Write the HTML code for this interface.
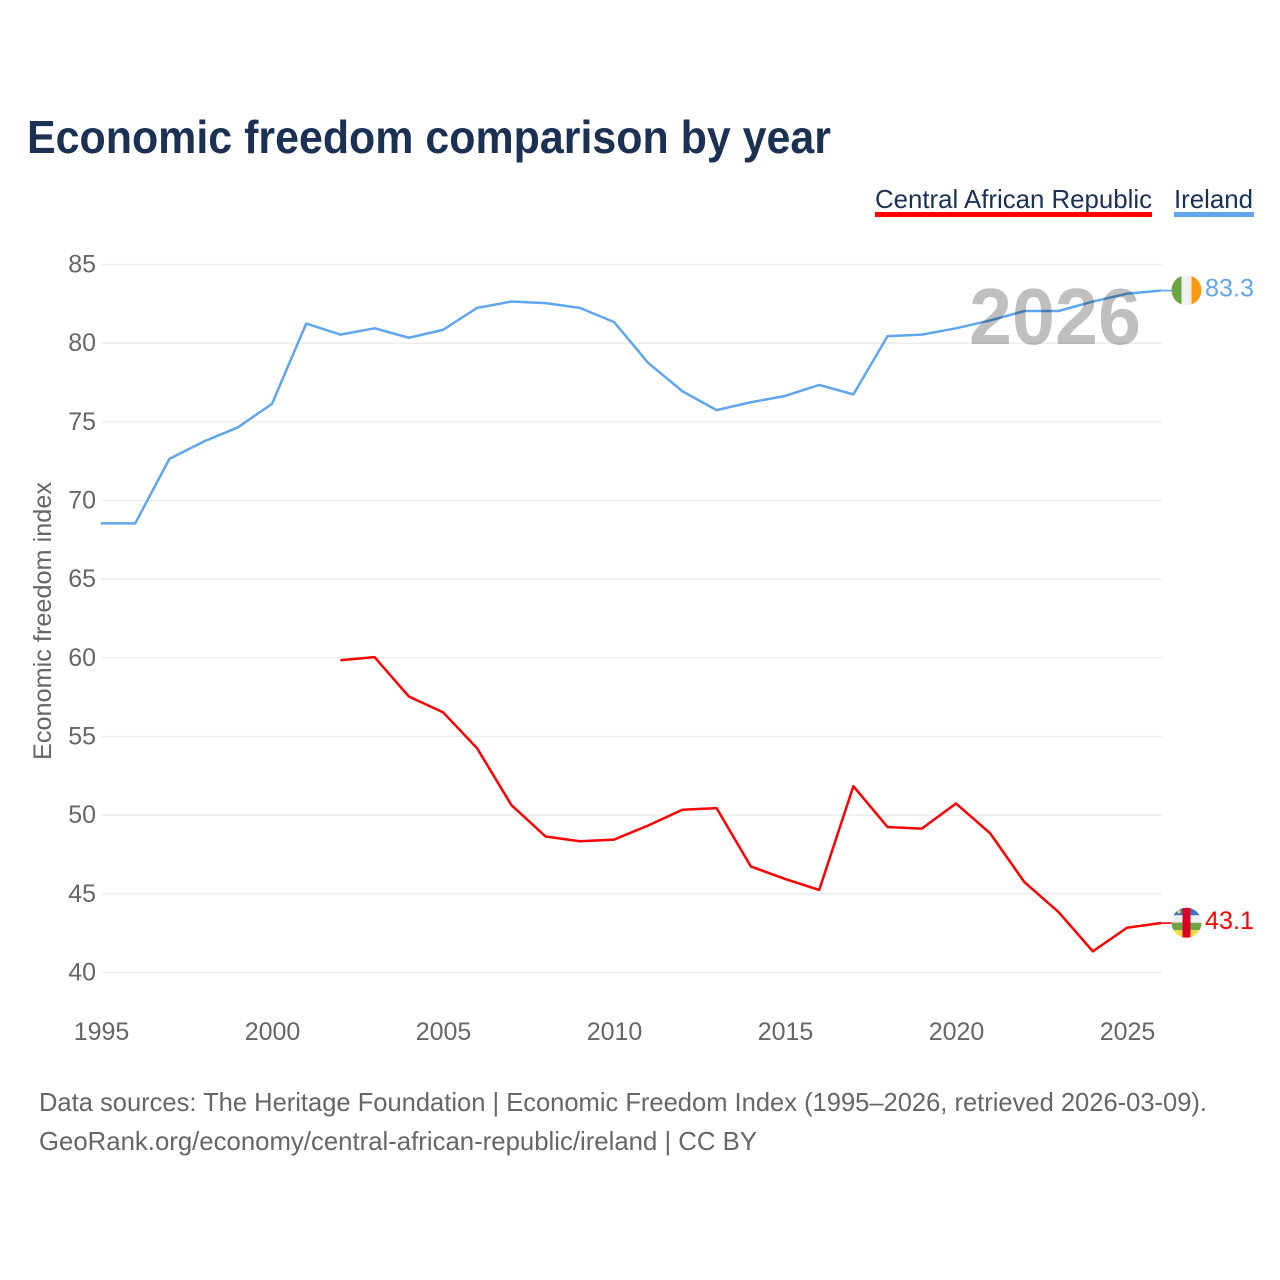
<!DOCTYPE html>
<html lang="en">
<head>
<meta charset="utf-8">
<title>Economic freedom comparison by year</title>
<style>
html,body{margin:0;padding:0;background:#fff;width:1280px;height:1280px;overflow:hidden}
svg{display:block}
text{font-family:"Liberation Sans",sans-serif}
</style>
</head>
<body>
<svg id="chart" xmlns="http://www.w3.org/2000/svg" width="1280" height="1280" viewBox="0 0 1280 1280">
  <rect x="0" y="0" width="1280" height="1280" fill="#ffffff"/>
  <text x="27" y="153" font-size="46" font-weight="700" fill="#1a3153" textLength="804" lengthAdjust="spacingAndGlyphs">Economic freedom comparison by year</text>

  <g>
    <text x="875" y="208" font-size="26" fill="#1a3153" textLength="277" lengthAdjust="spacingAndGlyphs">Central African Republic</text>
    <rect x="875" y="212" width="277" height="5" fill="#ff0000"/>
  </g>
  <g>
    <text x="1174" y="208" font-size="26" fill="#1a3153" textLength="79" lengthAdjust="spacingAndGlyphs">Ireland</text>
    <rect x="1174" y="212" width="80" height="5" fill="#5fa6ec"/>
  </g>

  <g id="grid"></g>
  <g id="yticks"></g>
  <g id="xticks"></g>
  <text transform="translate(51,760) rotate(-90)" x="0" y="0" font-size="25" fill="#666666" textLength="278" lengthAdjust="spacingAndGlyphs">Economic freedom index</text>

  <g id="series" transform="translate(-0.5,-0.7)"></g>

  <text x="969" y="344" font-size="80" font-weight="700" fill="#000000" fill-opacity="0.25" textLength="172" lengthAdjust="spacingAndGlyphs">2026</text>

  <defs>
    <clipPath id="clip-ie"><circle id="clip-ie-c" r="15"/></clipPath>
    <clipPath id="clip-cf"><circle id="clip-cf-c" r="15"/></clipPath>
  </defs>
  <g id="flag-ie" clip-path="url(#clip-ie)">
    <rect x="-15" y="-15" width="30" height="30" fill="#f0f0f0"/>
    <rect x="-15" y="-15" width="10" height="30" fill="#6da544"/>
    <rect x="5" y="-15" width="10" height="30" fill="#ff9811"/>
  </g>
  <g id="flag-cf" clip-path="url(#clip-cf)">
    <rect x="-15" y="-15" width="30" height="8" fill="#3f74b8"/>
    <rect x="-15" y="-7.5" width="30" height="7.5" fill="#f0f0f0"/>
    <rect x="-15" y="0" width="30" height="7.5" fill="#6da544"/>
    <rect x="-15" y="7.5" width="30" height="8" fill="#ffda44"/>
    <rect x="-4" y="-15" width="8" height="30" fill="#d80027"/>
    <circle cx="-7.5" cy="-11" r="1.6" fill="#ffda44"/>
  </g>

  <text id="label-ie" x="1205" font-size="25" fill="#5fa6ec" textLength="49" lengthAdjust="spacingAndGlyphs"></text>
  <text id="label-cf" x="1205" font-size="25" fill="#ff0000" textLength="49" lengthAdjust="spacingAndGlyphs"></text>

  <text x="39" y="1111" font-size="26" fill="#666666" textLength="1168" lengthAdjust="spacingAndGlyphs">Data sources: The Heritage Foundation | Economic Freedom Index (1995–2026, retrieved 2026-03-09).</text>
  <text x="39" y="1150" font-size="26" fill="#666666" textLength="718" lengthAdjust="spacingAndGlyphs">GeoRank.org/economy/central-african-republic/ireland | CC BY</text>
</svg>
<script>
const years = [1995,1996,1997,1998,1999,2000,2001,2002,2003,2004,2005,2006,2007,2008,2009,2010,2011,2012,2013,2014,2015,2016,2017,2018,2019,2020,2021,2022,2023,2024,2025,2026];
const irelandValues = [68.5,68.5,72.6,73.7,74.6,76.1,81.2,80.5,80.9,80.3,80.8,82.2,82.6,82.5,82.2,81.3,78.7,76.9,75.7,76.2,76.6,77.3,76.7,80.4,80.5,80.9,81.4,82.0,82.0,82.6,83.1,83.3];
const carValues = [null,null,null,null,null,null,null,59.8,60.0,57.5,56.5,54.2,50.6,48.6,48.3,48.4,49.3,50.3,50.4,46.7,45.9,45.2,51.8,49.2,49.1,50.7,48.8,45.7,43.8,41.3,42.8,43.1];
const yTickValues = [40,45,50,55,60,65,70,75,80,85];
const xTickValues = [1995,2000,2005,2010,2015,2020,2025];

const NS = 'http://www.w3.org/2000/svg';
const xScale = function (yr) { return 101.5 + (yr - 1995) * (1127.5 - 101.5) / 30; };
const yScale = function (v) { return 972.5 - (v - 40) * (972.5 - 264.5) / 45; };
const FLAG_X = 1186.5;

const grid = document.getElementById('grid');
const yticks = document.getElementById('yticks');
const xticks = document.getElementById('xticks');
const series = document.getElementById('series');

yTickValues.forEach(function (v) {
  const ln = document.createElementNS(NS, 'line');
  
  
  ln.setAttribute('x1', xScale(1995));
  ln.setAttribute('x2', xScale(2026));
  ln.setAttribute('y1', yScale(v));
  ln.setAttribute('y2', yScale(v));
  ln.setAttribute('stroke', '#ebebeb');
  ln.setAttribute('stroke-width', '1.3');
  grid.appendChild(ln);

  const t = document.createElementNS(NS, 'text');
  
  
  t.setAttribute('x', 96);
  t.setAttribute('y', yScale(v) + 8);
  t.setAttribute('text-anchor', 'end');
  t.setAttribute('font-size', '25');
  t.setAttribute('fill', '#666666');
  t.textContent = v;
  yticks.appendChild(t);
});

xTickValues.forEach(function (yr) {
  const t = document.createElementNS(NS, 'text');
  
  
  t.setAttribute('x', xScale(yr));
  t.setAttribute('y', 1040);
  t.setAttribute('text-anchor', 'middle');
  t.setAttribute('font-size', '25');
  t.setAttribute('fill', '#666666');
  t.textContent = yr;
  xticks.appendChild(t);
});

function linePoints(values) {
  const pts = [];
  values.forEach(function (v, i) {
    if (v !== null) pts.push(xScale(years[i]).toFixed(2) + ',' + yScale(v).toFixed(2));
  });
  return pts.join(' ');
}

const carLine = document.createElementNS(NS, 'polyline');


carLine.setAttribute('points', linePoints(carValues));
carLine.setAttribute('fill', 'none');
carLine.setAttribute('stroke', '#ff0000');
carLine.setAttribute('stroke-width', '2.5');
carLine.setAttribute('stroke-linejoin', 'round');
series.appendChild(carLine);

const ieLine = document.createElementNS(NS, 'polyline');


ieLine.setAttribute('points', linePoints(irelandValues));
ieLine.setAttribute('fill', 'none');
ieLine.setAttribute('stroke', '#5fa6ec');
ieLine.setAttribute('stroke-width', '2.5');
ieLine.setAttribute('stroke-linejoin', 'round');
series.appendChild(ieLine);

const ieLast = irelandValues[irelandValues.length - 1];
const carLast = carValues[carValues.length - 1];

const ieConn = document.createElementNS(NS, 'line');


ieConn.setAttribute('x1', xScale(2026));
ieConn.setAttribute('x2', FLAG_X);
ieConn.setAttribute('y1', yScale(ieLast));
ieConn.setAttribute('y2', yScale(ieLast));
ieConn.setAttribute('stroke', '#5fa6ec');
ieConn.setAttribute('stroke-width', '1.6');
series.appendChild(ieConn);

const carConn = document.createElementNS(NS, 'line');


carConn.setAttribute('x1', xScale(2026));
carConn.setAttribute('x2', FLAG_X);
carConn.setAttribute('y1', yScale(carLast));
carConn.setAttribute('y2', yScale(carLast));
carConn.setAttribute('stroke', '#ff0000');
carConn.setAttribute('stroke-width', '1.6');
series.appendChild(carConn);

function placeFlag(id, v) {
  const cy = yScale(v) - 1;
  document.getElementById(id).setAttribute('transform', 'translate(' + FLAG_X + ',' + cy + ')');
}
placeFlag('flag-ie', ieLast);
placeFlag('flag-cf', carLast);

const labelIe = document.getElementById('label-ie');
labelIe.setAttribute('y', yScale(ieLast) + 5.5);
labelIe.textContent = ieLast.toFixed(1);

const labelCf = document.getElementById('label-cf');
labelCf.setAttribute('y', yScale(carLast) + 5.5);
labelCf.textContent = carLast.toFixed(1);
</script>
</body>
</html>
